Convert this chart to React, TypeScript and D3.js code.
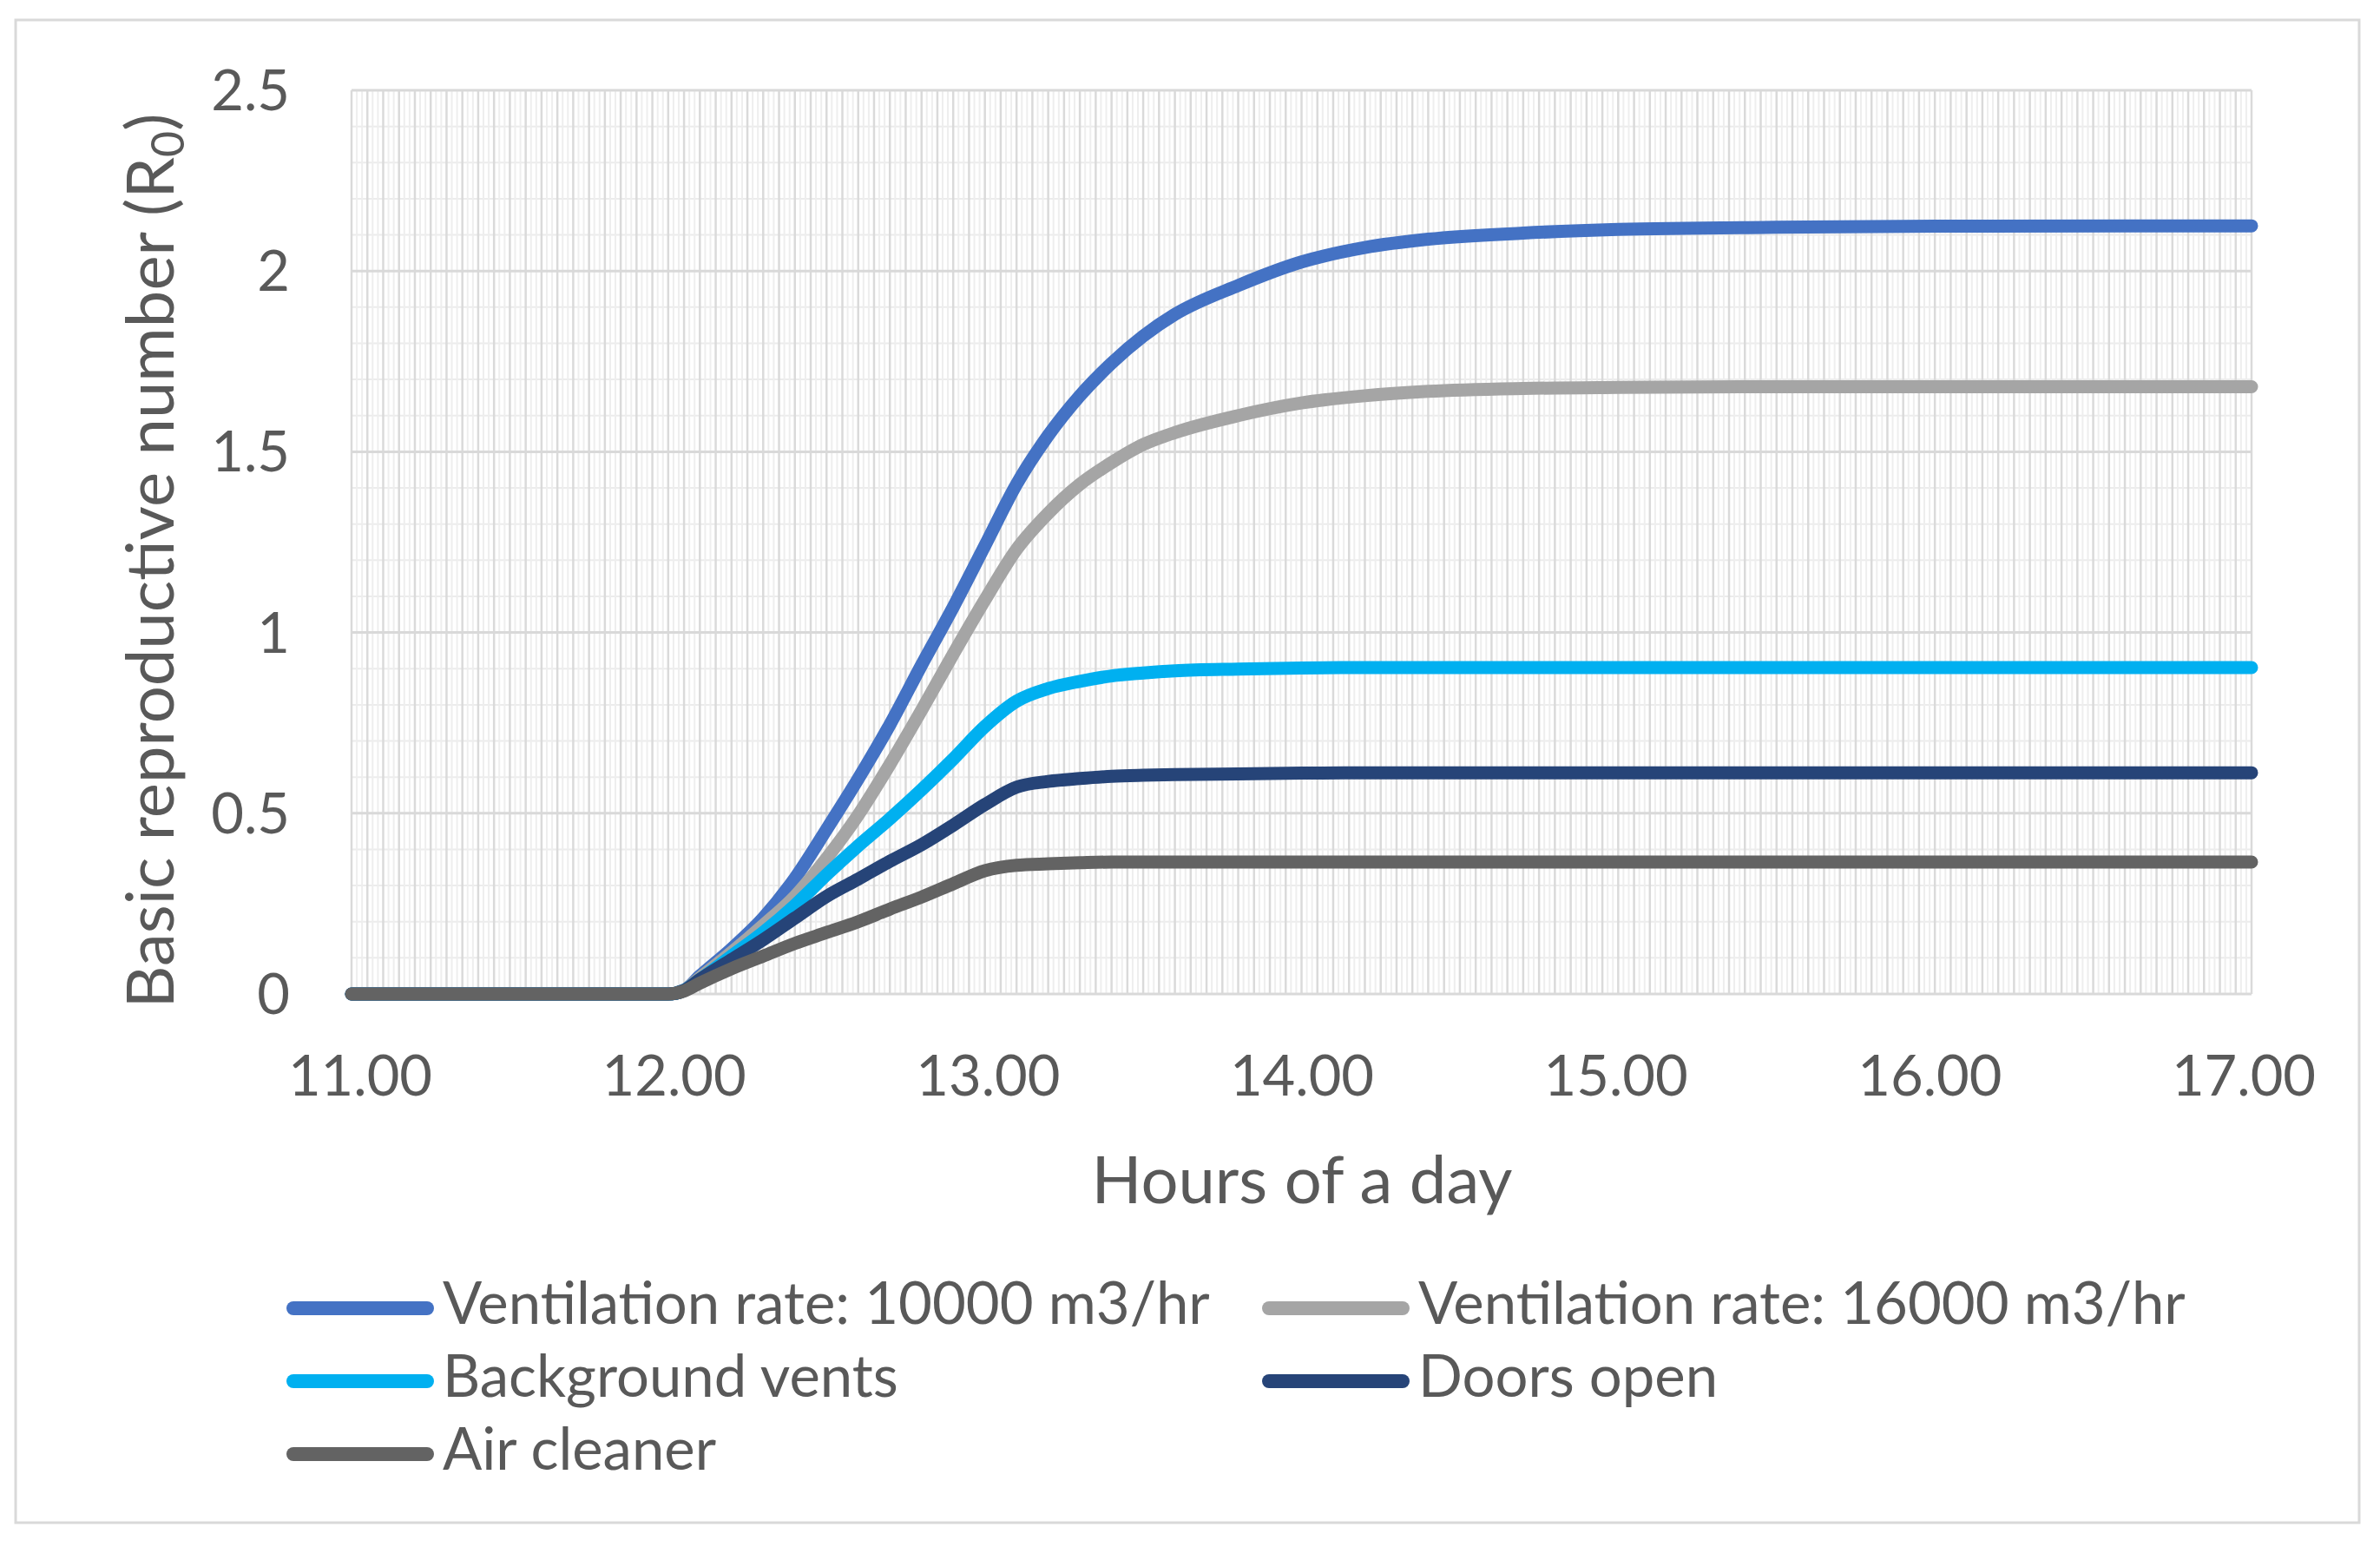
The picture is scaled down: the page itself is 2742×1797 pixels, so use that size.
import React from 'react';
import * as d3 from 'd3';

// ---- data ----
const hours = [11, 12, 12.05, 12.1, 12.2, 12.3, 12.4, 12.5, 12.6, 12.7, 12.8, 12.9, 13.0, 13.1, 13.2, 13.3, 13.4, 13.5, 13.6, 13.8, 14.0, 14.2, 14.4, 14.7, 15.0, 15.5, 16.0, 17.0];

const vent10000 = [0, 0, 0.01, 0.05, 0.125, 0.21, 0.32, 0.455, 0.595, 0.745, 0.91, 1.07, 1.24, 1.41, 1.545, 1.655, 1.745, 1.82, 1.88, 1.96, 2.025, 2.065, 2.088, 2.105, 2.115, 2.121, 2.124, 2.125];
const vent16000 = [0, 0, 0.01, 0.045, 0.115, 0.19, 0.27, 0.375, 0.495, 0.635, 0.785, 0.94, 1.09, 1.23, 1.33, 1.41, 1.47, 1.52, 1.553, 1.6, 1.635, 1.655, 1.667, 1.675, 1.678, 1.68, 1.68, 1.68];
const backgroundVents = [0, 0, 0.01, 0.04, 0.105, 0.17, 0.245, 0.33, 0.41, 0.485, 0.565, 0.65, 0.74, 0.81, 0.845, 0.865, 0.88, 0.888, 0.894, 0.899, 0.902, 0.903, 0.903, 0.903, 0.903, 0.903, 0.903, 0.903];
const doorsOpen = [0, 0, 0.01, 0.04, 0.095, 0.15, 0.21, 0.27, 0.318, 0.367, 0.413, 0.467, 0.524, 0.572, 0.588, 0.596, 0.602, 0.605, 0.607, 0.609, 0.611, 0.612, 0.612, 0.612, 0.612, 0.612, 0.612, 0.612];
const airCleaner = [0, 0, 0.008, 0.03, 0.07, 0.105, 0.14, 0.17, 0.2, 0.235, 0.268, 0.305, 0.341, 0.356, 0.36, 0.363, 0.365, 0.365, 0.365, 0.365, 0.365, 0.365, 0.365, 0.365, 0.365, 0.365, 0.365, 0.365];

const seriesNames = [
  'Ventilation rate: 10000 m3/hr',
  'Ventilation rate: 16000 m3/hr',
  'Background vents',
  'Doors open',
  'Air cleaner',
];
const seriesValues = [vent10000, vent16000, backgroundVents, doorsOpen, airCleaner];
const seriesColors = ['#4472C4', '#A5A5A5', '#00B0F0', '#264478', '#636363'];

const xTicks = [11, 12, 13, 14, 15, 16, 17];
const yTicks = [0, 0.5, 1, 1.5, 2, 2.5];

const W = 2742;
const H = 1797;
const FONT = 'Lato, "Open Sans", sans-serif';
const TEXT = '#595959';

export default function App() {
  const x = d3.scaleLinear().domain([11, 17]).range([405, 2594]);
  const xLabel = d3.scaleLinear().domain([11, 17]).range([415, 2585]);
  const y = d3.scaleLinear().domain([0, 2.5]).range([1145, 104]);

  const minuteLines = d3.range(0, 361).map((i) => ({ h: 11 + i / 60, major: i % 3 === 0 }));
  const hLines = d3.range(0, 26).map((i) => ({ v: i / 10, major: i % 5 === 0 }));

  const line = d3
    .line<number>()
    .x((_, i) => x(hours[i]))
    .y((d) => y(d))
    .curve(d3.curveMonotoneX);

  const legendRows = [
    { col: 0, row: 0 },
    { col: 1, row: 0 },
    { col: 0, row: 1 },
    { col: 1, row: 1 },
    { col: 0, row: 2 },
  ];
  const legendColX = [330, 1454];
  const legendRowBase = [1525, 1609, 1693];

  return (
    <svg
      width={W}
      height={H}
      style={{ position: 'absolute', left: 0, top: 0, display: 'block', background: '#fff' }}
    >
      <rect x={0} y={0} width={W} height={H} fill="#fff" />
      <rect x={18} y={23} width={2700} height={1731} fill="#fff" stroke="#d9d9d9" strokeWidth={3} />

      {/* minor gridlines */}
      <g>
        {hLines.filter((d) => !d.major).map((d, i) => (
          <line key={'hm' + i} x1={x(11)} x2={x(17)} y1={y(d.v)} y2={y(d.v)} stroke="#ececec" strokeWidth={2} />
        ))}
        {minuteLines.filter((d) => !d.major).map((d, i) => (
          <line key={'vm' + i} x1={x(d.h)} x2={x(d.h)} y1={y(0)} y2={y(2.5)} stroke="#eeeeee" strokeWidth={2} />
        ))}
      </g>
      {/* major gridlines */}
      <g>
        {minuteLines.filter((d) => d.major).map((d, i) => (
          <line key={'vM' + i} x1={x(d.h)} x2={x(d.h)} y1={y(0)} y2={y(2.5)} stroke="#dadada" strokeWidth={2.5} />
        ))}
        {hLines.filter((d) => d.major).map((d, i) => (
          <line key={'hM' + i} x1={x(11)} x2={x(17)} y1={y(d.v)} y2={y(d.v)} stroke="#d9d9d9" strokeWidth={3} />
        ))}
      </g>

      {/* series */}
      <g fill="none" strokeLinecap="round" strokeLinejoin="round">
        {seriesValues.map((vals, i) => (
          <path key={'s' + i} d={line(vals) || ''} stroke={seriesColors[i]} strokeWidth={15} />
        ))}
      </g>

      {/* y tick labels */}
      <g fontFamily={FONT} fontSize={65} fill={TEXT} textAnchor="end">
        {yTicks.map((t) => (
          <text key={'yt' + t} x={334} y={y(t) + 23}>
            {String(t)}
          </text>
        ))}
      </g>

      {/* x tick labels */}
      <g fontFamily={FONT} fontSize={65} fill={TEXT} textAnchor="middle">
        {xTicks.map((t) => (
          <text key={'xt' + t} x={xLabel(t)} y={1262}>
            {t.toFixed(2)}
          </text>
        ))}
      </g>

      {/* axis titles */}
      <text x={1500} y={1386} fontFamily={FONT} fontSize={76} fill={TEXT} textAnchor="middle">
        Hours of a day
      </text>
      <text
        transform="translate(200,646) rotate(-90)"
        fontFamily={FONT}
        fontSize={76}
        fill={TEXT}
        textAnchor="middle"
      >
        Basic reproductive number (R
        <tspan fontSize={52} dy={12}>0</tspan>
        <tspan dy={-12}>)</tspan>
      </text>

      {/* legend */}
      <g fontFamily={FONT} fontSize={67} fill={TEXT}>
        {seriesNames.map((name, i) => {
          const { col, row } = legendRows[i];
          const lx = legendColX[col];
          const base = legendRowBase[row];
          return (
            <g key={'lg' + i}>
              <line
                x1={lx + 8}
                x2={lx + 162}
                y1={base - 18}
                y2={base - 18}
                stroke={seriesColors[i]}
                strokeWidth={16}
                strokeLinecap="round"
              />
              <text x={lx + 180} y={base}>
                {name}
              </text>
            </g>
          );
        })}
      </g>
    </svg>
  );
}
